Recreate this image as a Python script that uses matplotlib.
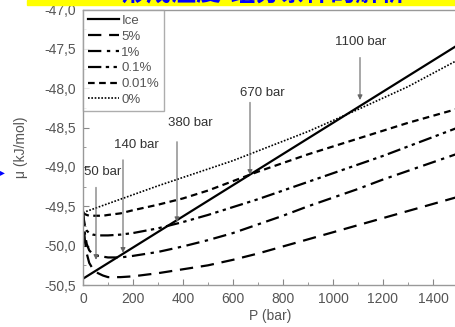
import matplotlib
matplotlib.use("Agg")
import matplotlib.pyplot as plt
from matplotlib.ticker import MultipleLocator, FuncFormatter
from matplotlib.patches import Rectangle

# pressures (bar) used for the hydrate curves
p_hyd = [0, 3, 8, 15, 25, 40, 60, 80, 100, 150, 200, 300, 400, 500, 600,
         700, 800, 900, 1000, 1100, 1200, 1300, 1400, 1500]

mu_5 = [-49.58, -49.75, -49.95, -50.10, -50.22, -50.30, -50.35, -50.38, -50.40,
        -50.40, -50.39, -50.35, -50.30, -50.25, -50.18, -50.10, -50.01, -49.92,
        -49.83, -49.74, -49.65, -49.56, -49.47, -49.38]
mu_1 = [-49.58, -49.70, -49.86, -49.98, -50.06, -50.11, -50.13, -50.14, -50.15,
        -50.15, -50.13, -50.08, -50.01, -49.93, -49.84, -49.73, -49.62, -49.50,
        -49.39, -49.28, -49.16, -49.05, -48.94, -48.83]
mu_01 = [-49.58, -49.66, -49.75, -49.81, -49.84, -49.86, -49.87, -49.87, -49.87,
         -49.86, -49.84, -49.78, -49.70, -49.61, -49.51, -49.41, -49.30, -49.19,
         -49.08, -48.97, -48.86, -48.74, -48.62, -48.50]
mu_001 = [-49.58, -49.59, -49.60, -49.61, -49.62, -49.62, -49.62, -49.62, -49.61,
          -49.59, -49.55, -49.48, -49.40, -49.30, -49.18, -49.06, -48.95, -48.84,
          -48.74, -48.64, -48.54, -48.44, -48.35, -48.26]

p_zero = [0, 300, 600, 900, 1100, 1300, 1500]
mu_0 = [-49.58, -49.24, -48.92, -48.55, -48.27, -47.98, -47.64]

p_ice = [0, 1500]
mu_ice = [-50.42, -47.45]

# crossing annotations: label, arrow x (bar), arrow top, arrow tip, label x, label y
ann_labels = ["50 bar", "140 bar", "380 bar", "670 bar", "1100 bar"]
ann_x = [52, 160, 376, 668, 1108]
ann_top = [-49.26, -48.91, -48.68, -48.18, -47.61]
ann_tip = [-50.18, -50.09, -49.70, -49.10, -48.15]
ann_lx = [80, 212, 428, 716, 1112]
ann_ly = [-49.07, -48.72, -48.44, -48.06, -47.41]

plt.rcParams['font.family'] = ['Liberation Sans', 'DejaVu Sans']
grey = '#555555'

fig = plt.figure(figsize=(4.56, 3.27), dpi=100)
ax = fig.add_axes([83 / 456, 1 - 285 / 327, 375 / 456, 275.5 / 327])

ax.plot(p_ice, mu_ice, color='black', lw=1.6, label='Ice')
ax.plot(p_hyd, mu_5, color='black', lw=1.6, ls=(0, (6, 3.5)), label='5%')
ax.plot(p_hyd, mu_1, color='black', lw=1.6, ls=(0, (6, 2.5, 1.5, 2.5)), label='1%')
ax.plot(p_hyd, mu_01, color='black', lw=1.6, ls=(0, (6, 2, 1.5, 2, 1.5, 2)), label='0.1%')
ax.plot(p_hyd, mu_001, color='black', lw=1.6, ls=(0, (3, 2)), label='0.01%')
ax.plot(p_zero, mu_0, color='black', lw=1.2, ls=(0, (1, 1)), label='0%')

for lab, x, top, tip, lx, ly in zip(ann_labels, ann_x, ann_top, ann_tip, ann_lx, ann_ly):
    ax.annotate('', xy=(x, tip), xytext=(x, top),
                arrowprops=dict(arrowstyle='-|>', color='#666666', lw=0.8,
                                mutation_scale=7, shrinkA=0, shrinkB=0))
    ax.text(lx, ly, lab, ha='center', va='center', fontsize=9.5, color='#333333')

ax.set_xlim(0, 1500)
ax.set_ylim(-50.5, -47.0)
ax.xaxis.set_major_locator(MultipleLocator(200))
ax.xaxis.set_minor_locator(MultipleLocator(100))
ax.yaxis.set_major_locator(MultipleLocator(0.5))
ax.yaxis.set_minor_locator(MultipleLocator(0.25))
ax.yaxis.set_major_formatter(FuncFormatter(lambda v, p: f"{v:.1f}".replace('.', ',')))
ax.tick_params(which='both', direction='in', colors='#888888', labelcolor=grey,
               labelsize=10)
ax.tick_params(axis='y', pad=5)
ax.tick_params(axis='x', pad=5)
ax.tick_params(which='major', length=4)
ax.tick_params(which='minor', length=2.5)
for s in ax.spines.values():
    s.set_color('#999999')
    s.set_linewidth(1.0)

ax.set_xlabel('P (bar)', fontsize=10, color=grey, labelpad=2)
ax.set_ylabel('\u03bc (kJ/mol)', fontsize=10, color=grey, labelpad=12)

leg = ax.legend(loc='upper left', fontsize=9.5, frameon=True, fancybox=False,
                handlelength=2.3, handletextpad=0.2, labelspacing=0.27,
                borderpad=0.4, borderaxespad=0)
leg.get_frame().set_edgecolor('#999999')
leg.get_frame().set_linewidth(1.0)
for t in leg.get_texts():
    t.set_color(grey)

# banner strip at the top, mostly cut off
fig.patches.append(Rectangle((27 / 456, 1 - 5 / 327), 1, 5 / 327,
                             transform=fig.transFigure, color='#ffff00', zorder=0))
fig.text(264 / 456, 1 - 7 / 327, '形成温度-组分条件的解析', ha='center', va='bottom',
         fontsize=18, color='#0000ff', fontweight='bold',
         family=['Noto Sans CJK SC', 'DejaVu Sans'])
fig.text(0.0, 1 - 172 / 327, '\u25b8', ha='left', va='center', fontsize=7,
         color='#0000ff', family=['DejaVu Sans'])

fig.savefig('out.png', dpi=100)
